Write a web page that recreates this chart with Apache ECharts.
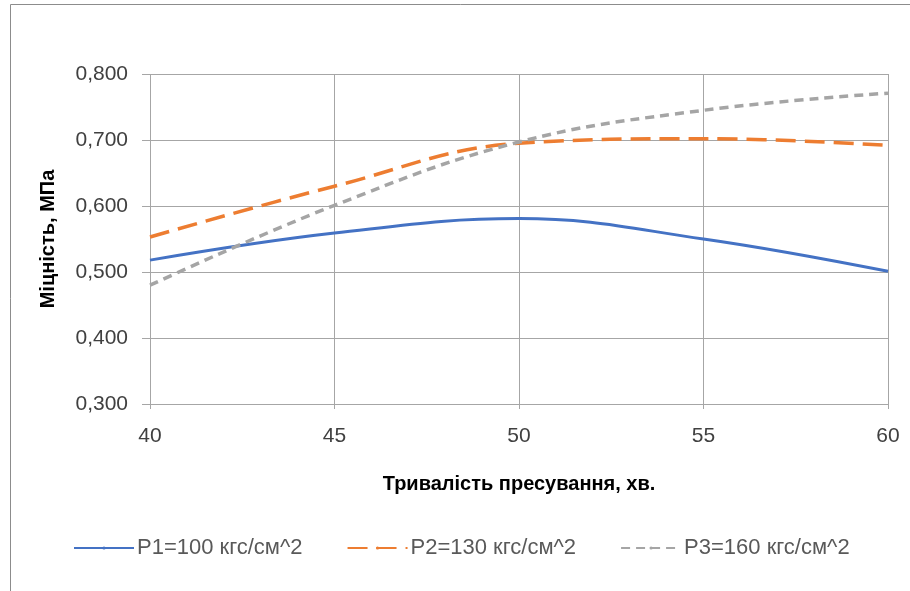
<!DOCTYPE html>
<html>
<head>
<meta charset="utf-8">
<script src="https://cdn.jsdelivr.net/npm/echarts@6/dist/echarts.min.js"></script>
<style>
  html, body { margin: 0; padding: 0; background: #fff; }
  #chart { width: 910px; height: 591px; }
</style>
</head>
<body>
<div id="chart"></div>
<script>
// тривалість пресування, хв.
var minutes = [40, 45, 50, 55, 60];
var seriesNames = ['P1=100 кгс/см^2', 'P2=130 кгс/см^2', 'P3=160 кгс/см^2'];
var p1 = [0.518, 0.559, 0.581, 0.550, 0.501];
var p2 = [0.553, 0.630, 0.695, 0.702, 0.692];
var p3 = [0.480, 0.601, 0.697, 0.745, 0.771];

function pairs(vals) {
  return minutes.map(function (m, i) { return [m, vals[i]]; });
}

var chart = echarts.init(document.getElementById('chart'));
var font = 'Liberation Sans';

chart.setOption({
  animation: false,
  textStyle: { fontFamily: font },
  graphic: [{
    type: 'rect',
    shape: { x: 10.5, y: 4.5, width: 920, height: 620 },
    style: { fill: 'none', stroke: '#8c8c8c', lineWidth: 1 },
    silent: true
  }],
  grid: { left: 150, right: 22, top: 74, bottom: 187 },
  legend: {
    top: 532,
    left: 68,
    itemWidth: 60,
    itemHeight: 4,
    itemGap: 44,
    textStyle: { fontSize: 22, color: '#595959', fontFamily: font, padding: [0, 0, 0, -2] },
    data: seriesNames
  },
  xAxis: {
    type: 'value',
    min: 40, max: 60, interval: 5,
    name: 'Тривалість пресування, хв.',
    nameLocation: 'middle',
    nameGap: 70,
    nameTextStyle: { fontSize: 20, fontWeight: 'bold', color: '#000' },
    axisLine: { show: true, lineStyle: { color: '#a6a6a6', width: 1 } },
    axisTick: { show: true, length: 5, lineStyle: { color: '#a6a6a6' } },
    axisLabel: { fontSize: 21, color: '#404040', margin: 22 },
    splitLine: { show: true, lineStyle: { color: '#a6a6a6', width: 1 } }
  },
  yAxis: {
    type: 'value',
    min: 0.3, max: 0.8, interval: 0.1,
    name: 'Міцність, МПа',
    nameLocation: 'middle',
    nameGap: 92,
    nameRotate: 90,
    nameTextStyle: { fontSize: 20, fontWeight: 'bold', color: '#000' },
    axisLine: { show: false },
    axisTick: { show: true, length: 8, lineStyle: { color: '#a6a6a6' } },
    axisLabel: {
      fontSize: 21, color: '#404040', margin: 22,
      formatter: function (v) { return v.toFixed(3).replace('.', ','); }
    },
    splitLine: { show: true, lineStyle: { color: '#a6a6a6', width: 1 } }
  },
  series: [
    {
      name: seriesNames[0], type: 'line', smooth: 0.4, symbol: 'none',
      data: pairs(p1),
      itemStyle: { color: '#4472c4' },
      lineStyle: { color: '#4472c4', width: 3 }
    },
    {
      name: seriesNames[1], type: 'line', smooth: 0.4, symbol: 'none',
      data: pairs(p2),
      itemStyle: { color: '#ed7d31' },
      lineStyle: { color: '#ed7d31', width: 3.5, type: [20, 9] }
    },
    {
      name: seriesNames[2], type: 'line', smooth: 0.4, symbol: 'none',
      data: pairs(p3),
      itemStyle: { color: '#a5a5a5' },
      lineStyle: { color: '#a5a5a5', width: 3.5, type: [9, 6] }
    }
  ]
});
</script>
</body>
</html>
